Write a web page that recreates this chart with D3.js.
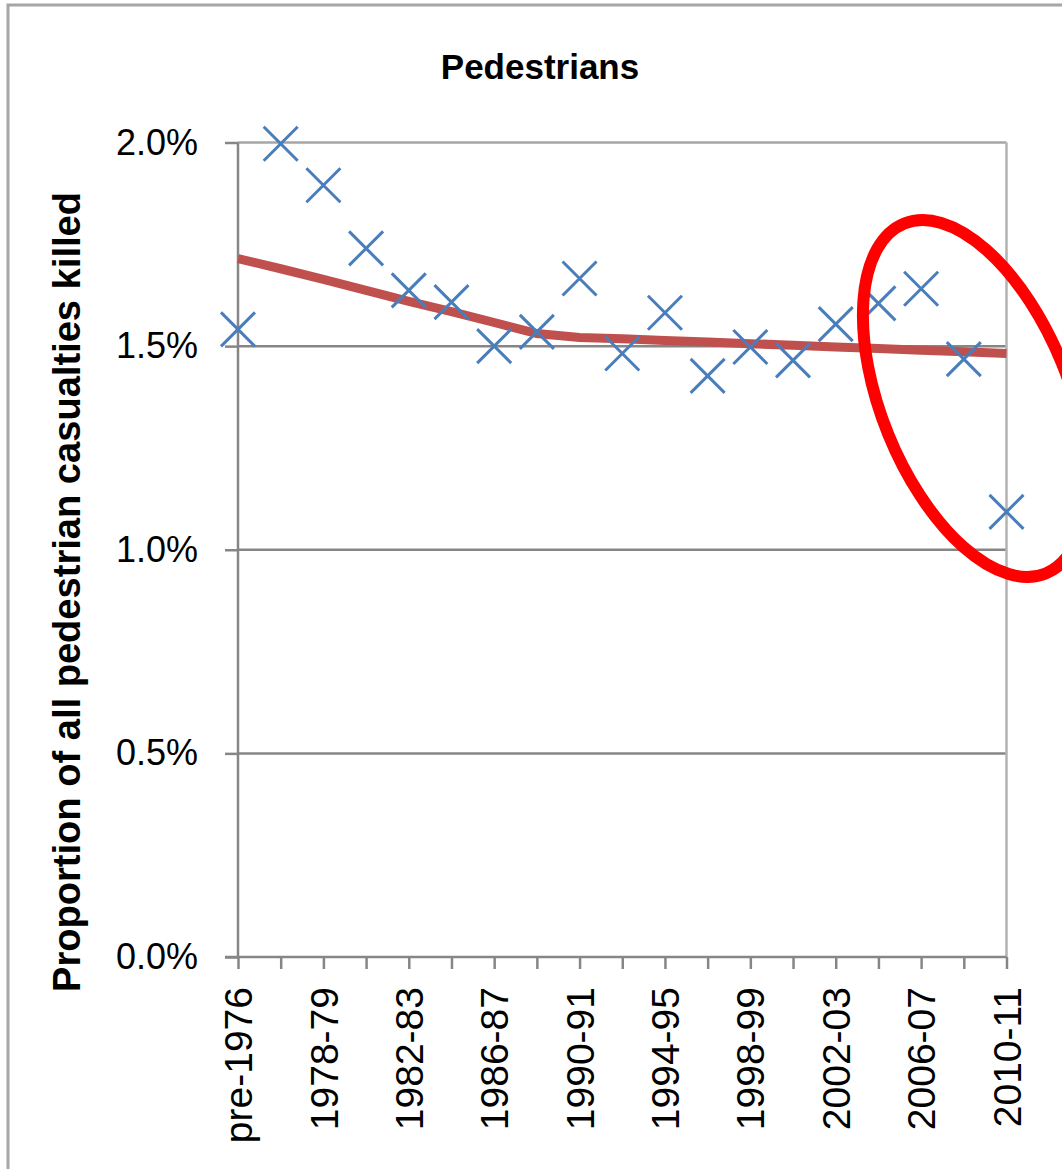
<!DOCTYPE html>
<html>
<head>
<meta charset="utf-8">
<script src="https://cdn.jsdelivr.net/npm/d3@7"></script>
<style>
  html, body { margin: 0; padding: 0; background: #fff; }
  svg { display: block; font-family: "Liberation Sans", Arial, sans-serif; }
</style>
</head>
<body>
<svg id="chart" width="1062" height="1169"></svg>
<script>
// ---- data ----
const categories = ["pre-1976","1976-77","1978-79","1980-81","1982-83","1984-85","1986-87","1988-89",
  "1990-91","1992-93","1994-95","1996-97","1998-99","2000-01","2002-03","2004-05","2006-07","2008-09","2010-11"];
const tickLabels = ["pre-1976","1978-79","1982-83","1986-87","1990-91","1994-95","1998-99","2002-03","2006-07","2010-11"];
const observed = [1.541,1.997,1.895,1.740,1.637,1.608,1.500,1.535,1.666,1.482,1.582,1.427,1.498,1.465,1.554,1.605,1.641,1.468,1.093];
const trend = [1.715,1.690,1.664,1.637,1.610,1.585,1.558,1.531,1.521,1.518,1.514,1.510,1.506,1.502,1.498,1.494,1.490,1.486,1.482];
const yTicks = [0, 0.5, 1.0, 1.5, 2.0];
const title = "Pedestrians";
const yTitle = "Proportion of all pedestrian casualties killed";

// ---- layout ----
const svg = d3.select("#chart");
const pL = 238, pR = 1006.5, pT = 142.5, pB = 957;
const x = d3.scalePoint().domain(categories).range([pL, pR]);
const y = d3.scaleLinear().domain([0, 2.0]).range([pB, pT]);

// outer chart frame
svg.append("rect").attr("x", 8).attr("y", 5).attr("width", 1100).attr("height", 1200)
  .attr("fill", "none").attr("stroke", "#a6a6a6").attr("stroke-width", 3);

// gridlines
svg.append("g").selectAll("line").data(yTicks.filter(d => d > 0)).join("line")
  .attr("x1", pL).attr("x2", pR)
  .attr("y1", d => y(d)).attr("y2", d => y(d))
  .attr("stroke", d => d === 2.0 ? "#a6a6a6" : "#868686").attr("stroke-width", 2.5);

// right plot border
svg.append("line").attr("x1", pR).attr("x2", pR).attr("y1", pT).attr("y2", pB)
  .attr("stroke", "#b3b3b3").attr("stroke-width", 2.5);

// y axis
const yAxis = svg.append("g").attr("transform", `translate(${pL},0)`)
  .call(d3.axisLeft(y).tickValues(yTicks).tickFormat(d => d.toFixed(1) + "%").tickSize(13).tickPadding(27));
yAxis.select(".domain").attr("stroke", "#868686").attr("stroke-width", 2.5).attr("d", `M0,${pT}V${pB}`);
yAxis.selectAll(".tick line").attr("stroke", "#868686").attr("stroke-width", 2.5);
yAxis.selectAll("text").attr("font-size", 36).attr("fill", "#000").attr("font-family", "Liberation Sans, Arial, sans-serif");

// x axis
const xAxis = svg.append("g").attr("transform", `translate(0,${pB})`)
  .call(d3.axisBottom(x).tickSize(12).tickFormat(d => tickLabels.includes(d) ? d : ""));
xAxis.select(".domain").attr("stroke", "#868686").attr("stroke-width", 2.5).attr("d", `M${pL - 13},0H${pR}`);
xAxis.selectAll(".tick line").attr("stroke", "#868686").attr("stroke-width", 2.5);
xAxis.selectAll("text")
  .attr("font-size", 39).attr("fill", "#000").attr("font-family", "Liberation Sans, Arial, sans-serif")
  .attr("transform", "rotate(-90)")
  .attr("x", -30).attr("y", 0).attr("dy", "0.35em")
  .style("text-anchor", "end");

// trend line
svg.append("path").datum(trend)
  .attr("fill", "none").attr("stroke", "#c0504d").attr("stroke-width", 9)
  .attr("d", d3.line().x((d, i) => x(categories[i])).y(d => y(d)));

// markers (X)
const s = 17;
svg.append("g").selectAll("path").data(observed).join("path")
  .attr("d", (d, i) => {
    const cx = x(categories[i]), cy = y(d);
    return `M${cx - s},${cy - s}L${cx + s},${cy + s}M${cx - s},${cy + s}L${cx + s},${cy - s}`;
  })
  .attr("stroke", "#4a7ebb").attr("stroke-width", 3).attr("fill", "none");

// title
svg.append("text").attr("x", 540).attr("y", 79).attr("text-anchor", "middle")
  .attr("font-size", 35).attr("font-weight", "bold").attr("fill", "#000").text(title);

// y axis title
svg.append("text").attr("transform", "translate(80,592) rotate(-90)").attr("text-anchor", "middle")
  .attr("font-size", 38.5).attr("font-weight", "bold").attr("fill", "#000")
  .attr("textLength", 800).attr("lengthAdjust", "spacingAndGlyphs").text(yTitle);

// red annotation ellipse
svg.append("ellipse").attr("cx", 0).attr("cy", 0).attr("rx", 188.7).attr("ry", 93.8)
  .attr("transform", "translate(975,398.5) rotate(68)")
  .attr("fill", "none").attr("stroke", "#ff0000").attr("stroke-width", 12);
</script>
</body>
</html>
